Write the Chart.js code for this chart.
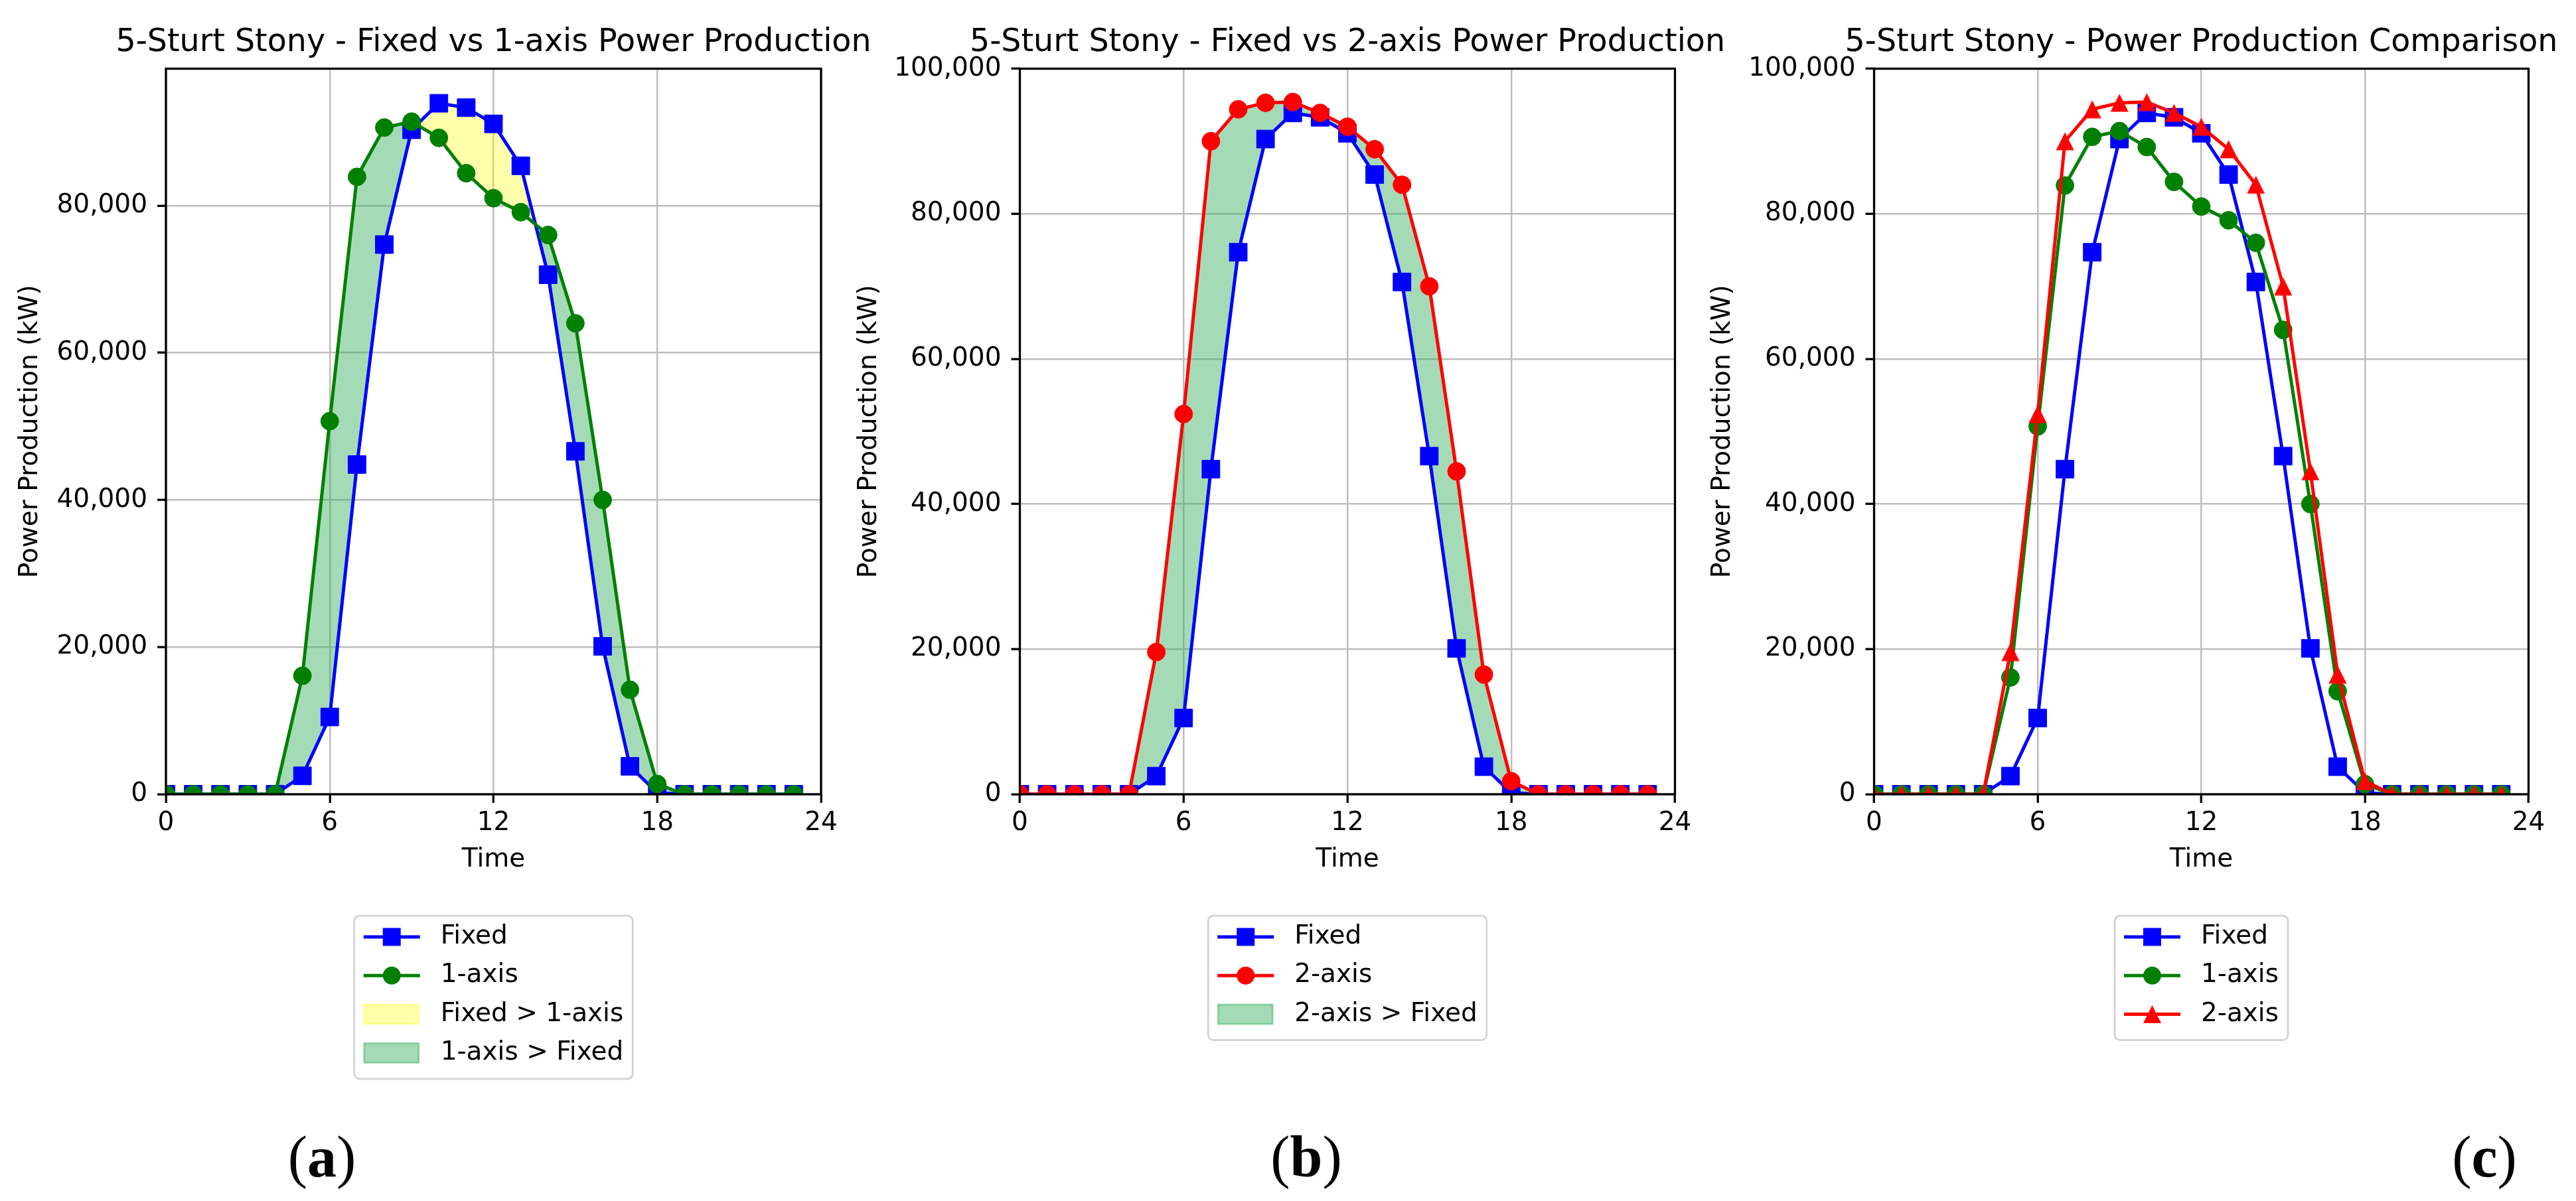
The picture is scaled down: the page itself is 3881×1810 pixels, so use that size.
<!DOCTYPE html>
<html>
<head>
<meta charset="utf-8">
<title>5-Sturt Stony - Power Production</title>
<script src="https://cdn.jsdelivr.net/npm/chart.js@4.4.1/dist/chart.umd.min.js"></script>
<style>
  html, body { margin: 0; padding: 0; background: #fff; }
  #wrap { position: relative; width: 3881px; height: 1810px; overflow: hidden; }
  #wrap canvas { position: absolute; left: 0; top: 0; }
  .panel { position: absolute; top: 1744px; transform: translate(-50%, -50%); font-family: 'Liberation Serif', serif; font-size: 88px; line-height: 1; color: #000; white-space: nowrap; }
</style>
</head>
<body>
<div id="wrap">
  <canvas id="chartA" width="3881" height="1810"></canvas>
  <canvas id="chartB" width="3881" height="1810"></canvas>
  <canvas id="chartC" width="3881" height="1810"></canvas>
  <div class="panel" style="left:485px">(<b>a</b>)</div>
  <div class="panel" style="left:1968px">(<b>b</b>)</div>
  <div class="panel" style="left:3743px">(<b>c</b>)</div>
</div>
<script>
// hourly values (kW)
const hours = [0, 1, 2, 3, 4, 5, 6, 7, 8, 9, 10, 11, 12, 13, 14, 15, 16, 17, 18, 19, 20, 21, 22, 23];
const fixedKw = [0, 0, 0, 0, 0, 2500, 10500, 44800, 74700, 90300, 93900, 93300, 91100, 85400, 70600, 46600, 20100, 3800, 200, 0, 0, 0, 0, 0];
const oneAxisKw = [0, 0, 0, 0, 0, 16100, 50700, 83900, 90600, 91400, 89200, 84400, 81000, 79100, 76000, 64000, 40000, 14200, 1400, 0, 0, 0, 0, 0];
const twoAxisKw = [0, 0, 0, 0, 0, 19600, 52400, 90000, 94400, 95300, 95400, 93900, 92000, 88900, 84000, 70000, 44500, 16500, 1800, 0, 0, 0, 0, 0];
const xTicks = [0, 6, 12, 18, 24];
const yTicksA = [0, 20000, 40000, 60000, 80000];
const yTicksBC = [0, 20000, 40000, 60000, 80000, 100000];

const BLUE = '#0000ff', GREEN = '#008000', RED = '#ff0000';
const FILL_GREEN = 'rgba(53,175,93,0.45)';
const FILL_YELLOW = 'rgba(255,255,0,0.33)';
const FONT = "'DejaVu Sans', sans-serif";

Chart.defaults.font.family = FONT;
Chart.defaults.color = '#000';

function drawMarker(ctx, kind, x, y, color) {
  ctx.fillStyle = color;
  ctx.beginPath();
  if (kind === 'square') {
    ctx.rect(x - 13.5, y - 13.5, 27, 27);
  } else if (kind === 'circle') {
    ctx.arc(x, y, 13.5, 0, Math.PI * 2);
  } else {
    ctx.moveTo(x, y - 13.5);
    ctx.lineTo(x + 13.5, y + 13.5);
    ctx.lineTo(x - 13.5, y + 13.5);
    ctx.closePath();
  }
  ctx.fill();
}

// triangle marker as an image, the library has no isoceles one
const triangle = document.createElement('canvas');
triangle.width = 28; triangle.height = 28;
drawMarker(triangle.getContext('2d'), 'triangle', 14, 14, RED);

function series(label, values, color, marker, order) {
  const ds = {
    label,
    data: values.map((v, i) => ({ x: hours[i], y: v })),
    borderColor: color,
    backgroundColor: color,
    borderWidth: 5,
    borderJoinStyle: 'round',
    pointBackgroundColor: color,
    pointBorderColor: color,
    pointBorderWidth: 1,
    tension: 0,
    fill: false,
    order
  };
  if (marker === 'square') { ds.pointStyle = 'rect'; ds.pointRadius = 19; }
  if (marker === 'circle') { ds.pointStyle = 'circle'; ds.pointRadius = 13.5; }
  if (marker === 'triangle') { ds.pointStyle = triangle; ds.pointRadius = 14; }
  return ds;
}

function extras(title, items) {
  return {
    id: 'extras',
    afterDraw(chart) {
      const ctx = chart.ctx;
      const a = chart.chartArea;
      const cx = (a.left + a.right) / 2;
      ctx.save();
      ctx.strokeStyle = '#000';
      ctx.lineWidth = 3.3;
      ctx.strokeRect(a.left, a.top, a.right - a.left, a.bottom - a.top);

      ctx.fillStyle = '#000';
      ctx.font = '47.5px ' + FONT;
      ctx.textAlign = 'center';
      ctx.textBaseline = 'middle';
      ctx.fillText(title, cx, 65);

      // legend box under the axes
      ctx.font = '39px ' + FONT;
      let maxText = 0;
      items.forEach(it => { maxText = Math.max(maxText, ctx.measureText(it.label).width); });
      const w = 14 + 85 + 31 + maxText + 14;
      const h = 32 + (items.length - 1) * 58.3 + 39;
      const left = cx - w / 2, top = a.bottom + 183;
      ctx.beginPath();
      ctx.roundRect(left, top, w, h, 8);
      ctx.fillStyle = 'rgba(255,255,255,0.8)';
      ctx.fill();
      ctx.strokeStyle = '#d5d5d5';
      ctx.lineWidth = 3;
      ctx.stroke();

      items.forEach((it, i) => {
        const y = top + 32 + i * 58.3;
        const hx = left + 14;
        if (it.patch) {
          ctx.fillStyle = it.patch;
          ctx.strokeStyle = it.patch;
          ctx.lineWidth = 3;
          ctx.fillRect(hx + 1, y - 14.5, 82, 29);
          ctx.strokeRect(hx + 1, y - 14.5, 82, 29);
        } else {
          ctx.strokeStyle = it.color;
          ctx.lineWidth = 5;
          ctx.beginPath();
          ctx.moveTo(hx, y);
          ctx.lineTo(hx + 85, y);
          ctx.stroke();
          drawMarker(ctx, it.marker, hx + 42.5, y, it.color);
        }
        ctx.fillStyle = '#000';
        ctx.textAlign = 'left';
        ctx.fillText(it.label, hx + 116, y);
      });
      ctx.restore();
    }
  };
}

function makeChart(id, plotLeft, plotRight, yMax, yTicks, yTitlePad, datasets, title, items) {
  const grid = { color: '#bdbdbd', lineWidth: 2.5, tickColor: '#000', tickWidth: 3.3, tickLength: 13 };
  return new Chart(document.getElementById(id), {
    type: 'line',
    data: { datasets },
    options: {
      responsive: false,
      animation: false,
      events: [],
      layout: { padding: { left: plotLeft - 260, right: 3881 - plotRight, top: 103.5, bottom: 1810 - 1197 - 140 } },
      plugins: {
        legend: { display: false },
        tooltip: { enabled: false },
        filler: { drawTime: 'beforeDatasetsDraw' }
      },
      scales: {
        x: {
          type: 'linear', min: xTicks[0], max: xTicks[xTicks.length - 1],
          afterBuildTicks: s => { s.ticks = xTicks.map(v => ({ value: v })); },
          ticks: { padding: 7.6, font: { size: 39 }, maxRotation: 0 },
          grid, border: { display: false },
          title: { display: true, text: 'Time', font: { size: 39 }, padding: { top: 0, bottom: 18 } },
          afterFit: s => { s.height = 140; }
        },
        y: {
          min: 0, max: yMax,
          afterBuildTicks: s => { s.ticks = yTicks.map(v => ({ value: v })); },
          ticks: { padding: 15, font: { size: 39 }, callback: v => v.toLocaleString('en-US') },
          grid, border: { display: false },
          title: { display: true, text: 'Power Production (kW)', font: { size: 39 }, padding: { top: yTitlePad, bottom: 0 } },
          afterFit: s => { s.width = 260; }
        }
      }
    },
    plugins: [extras(title, items)]
  });
}

// (a) fixed vs 1-axis
const aFixed = series('Fixed', fixedKw, BLUE, 'square', 3);
const aOne = series('1-axis', oneAxisKw, GREEN, 'circle', 2);
aOne.fill = { target: 0, above: FILL_GREEN, below: FILL_YELLOW };
makeChart('chartA', 250, 1237, 98600, yTicksA, 32.6, [aFixed, aOne],
  '5-Sturt Stony - Fixed vs 1-axis Power Production', [
    { label: 'Fixed', color: BLUE, marker: 'square' },
    { label: '1-axis', color: GREEN, marker: 'circle' },
    { label: 'Fixed > 1-axis', patch: FILL_YELLOW },
    { label: '1-axis > Fixed', patch: FILL_GREEN }
  ]);

// (b) fixed vs 2-axis
const bFixed = series('Fixed', fixedKw, BLUE, 'square', 3);
const bTwo = series('2-axis', twoAxisKw, RED, 'circle', 1);
bTwo.fill = { target: 0, above: FILL_GREEN, below: 'rgba(0,0,0,0)' };
makeChart('chartB', 1536.5, 2523.5, 100000, yTicksBC, 10, [bFixed, bTwo],
  '5-Sturt Stony - Fixed vs 2-axis Power Production', [
    { label: 'Fixed', color: BLUE, marker: 'square' },
    { label: '2-axis', color: RED, marker: 'circle' },
    { label: '2-axis > Fixed', patch: FILL_GREEN }
  ]);

// (c) all three
makeChart('chartC', 2823.5, 3809.5, 100000, yTicksBC, 8.5, [
    series('Fixed', fixedKw, BLUE, 'square', 3),
    series('1-axis', oneAxisKw, GREEN, 'circle', 2),
    series('2-axis', twoAxisKw, RED, 'triangle', 1)
  ],
  '5-Sturt Stony - Power Production Comparison', [
    { label: 'Fixed', color: BLUE, marker: 'square' },
    { label: '1-axis', color: GREEN, marker: 'circle' },
    { label: '2-axis', color: RED, marker: 'triangle' }
  ]);
</script>
</body>
</html>
